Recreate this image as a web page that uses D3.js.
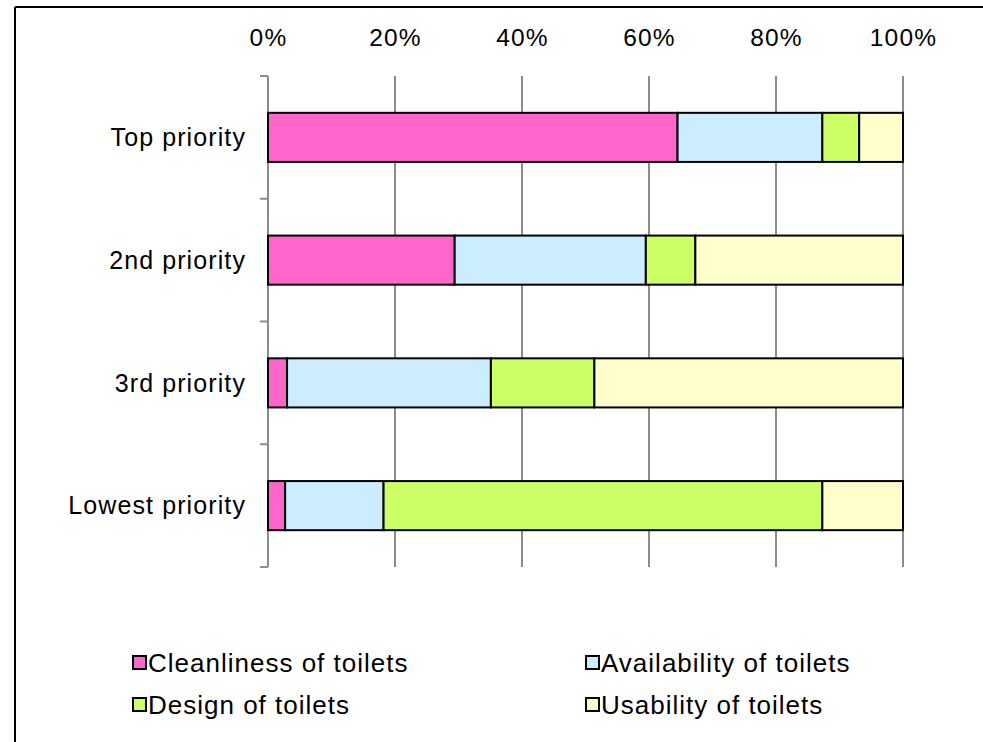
<!DOCTYPE html>
<html>
<head>
<meta charset="utf-8">
<script src="https://cdn.jsdelivr.net/npm/d3@7"></script>
<style>
  body { margin: 0; background: #fff; }
  svg text { font-family: "Liberation Sans", Arial, sans-serif; fill: #000; }
</style>
</head>
<body>
<svg id="chart" width="983" height="742"></svg>
<script>
// categories (top to bottom)
var categories = ["Top priority", "2nd priority", "3rd priority", "Lowest priority"];
var seriesNames = ["Cleanliness of toilets", "Availability of toilets", "Design of toilets", "Usability of toilets"];
var seriesColors = ["#FF66CC", "#CCECFF", "#CCFF66", "#FFFFCC"];
// percent values per series, same order as categories
var cleanliness = [64.5, 29.4, 3.0, 2.7];
var availability = [22.8, 30.1, 32.1, 15.5];
var design = [5.8, 7.8, 16.3, 69.1];
var usability = [6.9, 32.7, 48.6, 12.7];
var tickValues = [0, 20, 40, 60, 80, 100];

var seriesVals = [cleanliness, availability, design, usability];

var rows = categories.map(function(c, i){
    var r = {cat: c};
    seriesNames.forEach(function(s, j){ r[s] = seriesVals[j][i]; });
    return r;
});

var stacked = d3.stack().keys(seriesNames)(rows);

var svg = d3.select("#chart");

var plot = {left: 268, right: 903, top: 76, bottom: 567};

var x = d3.scaleLinear()
    .domain([0, 100])
    .range([plot.left, plot.right]);

var y = d3.scaleBand()
    .domain(categories)
    .range([plot.top, plot.bottom])
    .paddingInner(0.6)
    .paddingOuter(0.3);

// outer frame (only top and left visible)
svg.append("line")
    .attr("x1", 15).attr("x2", 990).attr("y1", 7).attr("y2", 7)
    .style("stroke", "#000").style("stroke-width", 2);
svg.append("line")
    .attr("x1", 15).attr("x2", 15).attr("y1", 7).attr("y2", 750)
    .style("stroke", "#000").style("stroke-width", 2);

// vertical gridlines
svg.append("g")
    .selectAll("line")
    .data(tickValues)
    .enter()
    .append("line")
    .attr("x1", function(d){ return x(d); })
    .attr("x2", function(d){ return x(d); })
    .attr("y1", plot.top)
    .attr("y2", plot.bottom)
    .style("stroke", "#8c8c8c")
    .style("stroke-width", 2);

// category axis ticks on the left (band boundaries)
var bounds = categories.map(function(c){ return y(c) - y.step() * y.paddingInner() / 2; });
bounds[0] = plot.top;
bounds.push(plot.bottom);
svg.append("g")
    .selectAll("line")
    .data(bounds)
    .enter()
    .append("line")
    .attr("x1", plot.left - 8)
    .attr("x2", plot.left)
    .attr("y1", function(d){ return d; })
    .attr("y2", function(d){ return d; })
    .style("stroke", "#8c8c8c")
    .style("stroke-width", 2);

// top axis labels
var xAxis = d3.axisTop(x)
    .tickValues(tickValues)
    .tickSize(0)
    .tickPadding(3)
    .tickFormat(function(d){ return d + "%"; });

var gx = svg.append("g")
    .attr("transform", "translate(0,49)")
    .call(xAxis);
gx.select(".domain").remove();
gx.selectAll("text")
    .style("font-size", "24.5px")
    .style("letter-spacing", "1.2px")
    .attr("fill", "#000");

// category labels
svg.append("g")
    .selectAll("text")
    .data(categories)
    .enter()
    .append("text")
    .attr("x", 246)
    .attr("y", function(d){ return y(d) + y.bandwidth() / 2; })
    .attr("dy", "0.35em")
    .style("text-anchor", "end")
    .style("font-size", "25px")
    .style("letter-spacing", "1.1px")
    .text(function(d){ return d; });

// stacked bars
svg.append("g")
    .selectAll("g")
    .data(stacked)
    .enter()
    .append("g")
    .style("fill", function(d, i){ return seriesColors[i]; })
    .selectAll("rect")
    .data(function(d){ return d; })
    .enter()
    .append("rect")
    .attr("x", function(d){ return x(d[0]); })
    .attr("y", function(d){ return y(d.data.cat); })
    .attr("width", function(d){ return x(d[1]) - x(d[0]); })
    .attr("height", y.bandwidth())
    .style("stroke", "#000")
    .style("stroke-width", 2);

// legend
var legendPos = [[133, 663], [586, 663], [133, 705], [586, 705]];
var leg = svg.append("g")
    .selectAll("g")
    .data(seriesNames)
    .enter()
    .append("g")
    .attr("transform", function(d, i){ return "translate(" + legendPos[i][0] + "," + legendPos[i][1] + ")"; });

leg.append("rect")
    .attr("x", 0)
    .attr("y", -7)
    .attr("width", 13)
    .attr("height", 13)
    .style("fill", function(d, i){ return seriesColors[i]; })
    .style("stroke", "#000")
    .style("stroke-width", 2);

leg.append("text")
    .attr("x", 15)
    .attr("y", 0)
    .attr("dy", "0.35em")
    .style("font-size", "26px")
    .style("letter-spacing", "1px")
    .text(function(d){ return d; });
</script>
</body>
</html>
